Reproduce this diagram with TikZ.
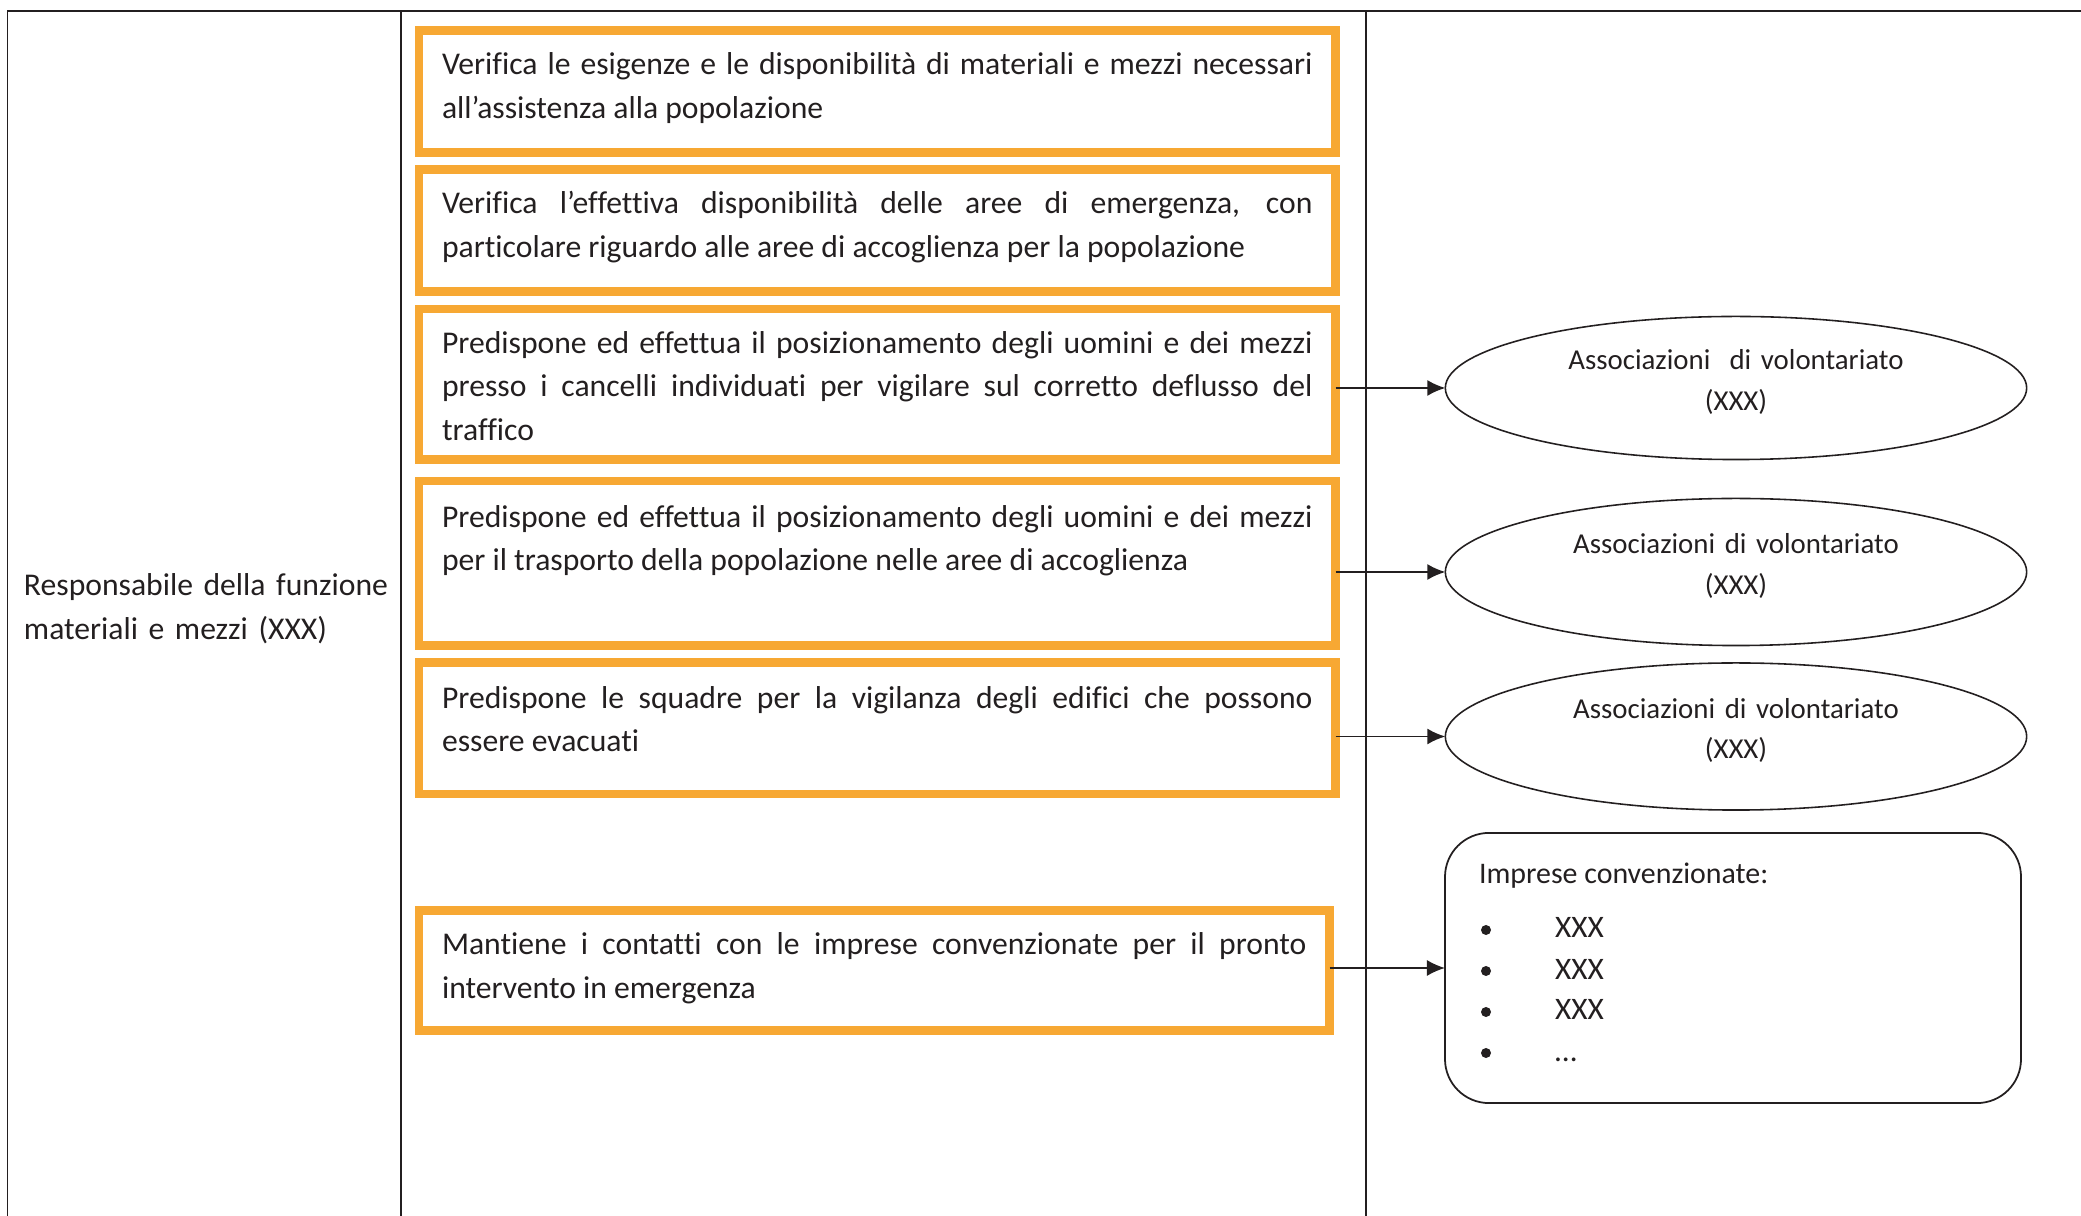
\documentclass[tikz,border=0pt]{standalone}
\usepackage{fontspec}
\setmainfont{Carlito}[Ligatures={NoCommon}]
\usetikzlibrary{shapes.geometric,arrows.meta}
\definecolor{boxorange}{RGB}{247,168,51}
\definecolor{inkgray}{RGB}{35,31,32}
\tolerance=10000
\hbadness=10000
\hyphenpenalty=10000
\exhyphenpenalty=10000
\begin{document}
\begin{tikzpicture}[x=0.01cm, y=-0.01cm,
  every node/.style={text=inkgray, font=\fontsize{9}{12.5}\selectfont},
  grid/.style={draw=inkgray, line width=0.55pt},
  lbl/.style={inner sep=0pt, outer sep=0pt},
  small/.style={font=\fontsize{8.2}{11.4}\selectfont},
  task/.style={draw=boxorange, line width=2.45pt, anchor=north west, outer sep=0pt,
    inner xsep=0.23cm, inner ysep=0pt, text width=8.70cm, align=justify, text height=0.44cm},
  assoc/.style={small, draw=inkgray, line width=0.45pt, ellipse, inner sep=0pt, outer sep=0pt,
    minimum width=5.81cm, text width=3.9cm, align=center,
    text height=0.24cm, text depth=0.60cm},
  dot/.style={circle, fill=inkgray, inner sep=0pt, minimum size=0.1cm},
  link/.style={draw=inkgray, line width=0.5pt, -{Latex[length=0.18cm,width=0.16cm]}}]
\useasboundingbox (0,0) rectangle (2081,1216);

% table
\draw[grid] (7.5,1216) -- (7.5,10.7) -- (2081,10.7);
\draw[grid] (401,10.7) -- (401,1216);
\draw[grid] (1366,10.7) -- (1366,1216);

\node[lbl, anchor=base west, text width=3.9cm, align=left] (resp) at (24,596)
  {Responsabile della funzione\\materiali e mezzi (XXX)};

% attivita
\node[task, text depth=0.78cm] (t1) at (419,30.7)
  {Verifica le esigenze e le disponibilità di materiali e mezzi necessari\linebreak all’assistenza alla popolazione};
\node[task, text depth=0.78cm] (t2) at (419,169.7)
  {Verifica l’effettiva disponibilità delle aree di emergenza, con\linebreak particolare riguardo alle aree di accoglienza per la popolazione};
\node[task, text depth=1.067cm] (t3) at (419,309)
  {Predispone ed effettua il posizionamento degli uomini e dei mezzi\linebreak presso i cancelli individuati per vigilare sul corretto deflusso del\linebreak traffico};
\node[task, text height=0.46cm, text depth=1.186cm] (t4) at (419,481)
  {Predispone ed effettua il posizionamento degli uomini e dei mezzi\linebreak per il trasporto della popolazione nelle aree di accoglienza};
\node[task, text height=0.455cm, text depth=0.86cm] (t5) at (419,662.5)
  {Predispone le squadre per la vigilanza degli edifici che possono\linebreak essere evacuati};
\node[task, text height=0.443cm, text depth=0.757cm, text width=8.64cm] (t6) at (419,910.5)
  {Mantiene i contatti con le imprese convenzionate per il pronto\linebreak intervento in emergenza};

% soggetti
\node[assoc, minimum height=1.43cm] (e1) at (1736,388) {Associazioni~ di volontariato\\(XXX)};
\node[assoc, minimum height=1.47cm] (e2) at (1736,572) {Associazioni di volontariato\\(XXX)};
\node[assoc, minimum height=1.47cm] (e3) at (1736,736.5) {Associazioni di volontariato\\(XXX)};

\node[draw=inkgray, line width=0.5pt, rounded corners=0.44cm, inner sep=0pt, outer sep=0pt,
  minimum width=5.757cm, minimum height=2.70cm] (imp) at (1733,968) {};
\node[lbl, font=\fontsize{8.5}{11.4}\selectfont, anchor=base west] (imph) at (1479,884) {Imprese convenzionate:};
\foreach \ditta [count=\k] in {XXX,XXX,XXX,…} {
  \node[dot] (d\k) at (1486,889+41*\k) {};
  \node[lbl, font=\fontsize{8.9}{11.4}\selectfont, anchor=base west] (x\k) at (1555,897+41*\k) {\ditta};
}

% frecce
\draw[link] (t3.east |- e1.west) -- (e1.west);
\draw[link] (t4.east |- e2.west) -- (e2.west);
\draw[link] (t5.east |- e3.west) -- (e3.west);
\draw[link] (t6.east |- imp.west) -- (imp.west);
\end{tikzpicture}
\end{document}
